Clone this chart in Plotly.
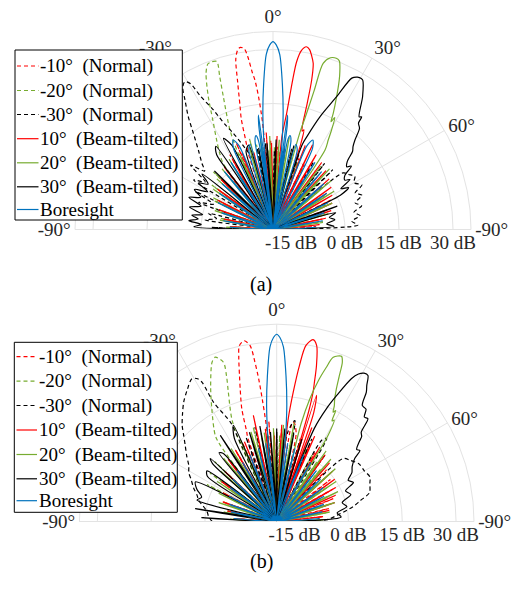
import plotly.graph_objects as go

# ---------------- data: panel (a) ----------------
A_RN10_T = [-90,-86,-82,-78,-74,-70,-66,-62,-58,-54,-50,-46,-42,-38,-34,-30,-26.5,-23,-19.5,-18,-17,-16,-15,-13.5,-12.3,-11,-10.1,-9,-8.3,-7.5,-6.9,-6.2,-5.6,-5,-4,-3,-1.5,0.5,3,5.5,8,10.5,13.7,17,20,23,26,29,32,36,40,44,48,52,56,60,63,66,70,74,78,82,86,90]
A_RN10_R = [-20,-9,-20,-6,-20,-4,-20,-2,-20,-1,-20,1,-20,2,-20,4,-20,6,-20,2,6,12,15.3,22,28.5,31,31.4,30.8,28.5,24,21.8,17,10,-20,7,-20,5,-20,3,-20,2,-20,0,-20,1,-20,0,-20,-1,-20,-1,-20,-2,-20,-2,-20,-2,-20,-4,-20,-6,-20,-8,-20]

A_GN20_T = [-90,-86,-82,-78,-74,-70,-66,-62,-58,-54,-50,-46,-42,-39,-37,-35,-32.2,-28.8,-26,-23.2,-21.5,-20.2,-18.5,-19.2,-20.5,-23.4,-24.5,-25,-16,-14.5,-13,-11,-9,-7,-5,-3,-1,1,3,5,7,9,11,14,17,20,23,26,29,32,35,38,41,44,47,50,53,57,61,65,69,73,77,81,85,88,90]
A_GN20_R = [-20,-8,-20,-5,-20,-3,-20,-1,-20,1,-20,3,-20,-20,3,5.8,9.4,14.7,21,27.2,29.4,29.6,29.2,25,19.4,10.1,4,-20,-20,6,-20,4,-20,3,-20,2,-20,3,-20,2,-20,1,-20,2,-20,0,-20,-1,-20,-1,-20,-2,-20,-2,-20,-3,-20,-3,-20,-4,-20,-5,-20,-6,-20,-8,-20]

A_BN30_T = [-90,-88,-85,-82,-79,-76,-73,-70,-67,-64,-61,-58,-55,-52,-49.5,-47,-43.2,-39.6,-36.9,-34.2,-32.4,-30.8,-29.5,-28.5,-26.5,-24.5,-22.4,-19,-15.8,-14,-11,-8,-5,-2,1,4,7,10,13,16,19,22,25,28,31,34,38,42,45,48,51,54,57,60,63.4,66,69,72,75,78,81,84,87,90]
A_BN30_R = [-20,-3,-20,-1,-4,-1.5,-20,2,-2,4,-20,6,3,9,5,7,10.3,14.7,19.2,23.5,26.8,27.8,26.5,22,17.1,12,8.9,4,0,-20,3,-20,4,-20,2,-20,1,-20,3,-20,2,-20,0,-20,2,-20,3.3,-20,3.5,-20,5,6,7.1,6,7.6,5,6.5,4,5.5,3,4.5,2,3.6,-20]

A_RT10_T = [-90,-86,-82,-78,-74,-70,-66,-62,-58,-54,-50,-46,-42,-38,-34,-30,-26,-22,-18,-14,-10,-6,-3,-1,1,2.5,4.5,5.5,6.7,7.5,8,9,10.35,11.5,12.5,13.6,14.5,15.2,15.8,16.5,17.2,18,19,21,23,25,27,30,33,36,39,42,45,48,51,54,57,60,63,66,69,72,75,78,81,84,87,90]
A_RT10_R = [-20,-8,-20,-6,-20,-4,-20,-3,-20,-1,-20,0,-20,1,-20,2,-20,3,-20,2,-20,3,-20,4,-20,6,-20,6,12.5,22,27,30.3,31.6,31,29.5,27.5,22.9,16,10,8.5,9,5,-20,5,-20,6,-20,4,-20,3,-20,2,-20,1,-20,0,-20,-1,-20,-2,-20,-3,-20,-5,-20,-7,-20,-20]

A_GT20_T = [-90,-87,-84,-80,-76,-72,-68,-64,-60,-56,-52,-48,-44,-40,-36,-32,-28,-24,-20,-16,-12,-8,-5,-2,1,4,7,10,12.5,14.5,15.5,16,16.5,16.8,18.5,20.3,21.5,23,23.9,25.6,27.4,28.3,28.9,30.5,31.7,33.2,35,37,40,43,46,50,54,58,62,66,70,74,78,82,86,89,90]
A_GT20_R = [-20,-7,-20,-5,-20,-3,-20,-2,-20,0,-20,1,-20,2,-20,3,-20,3,-20,4,-20,5,-20,6,-20,5,-20,6,-20,-20,8,12,20,28.2,30.3,30.7,30.3,27.5,25.4,20.9,16.4,14,15.5,12,9.2,6.4,-20,2,-20,3,-20,1,-20,0,-20,-2,-20,-4,-20,-6,-20,-8,-20]

A_BT30_T = [-90,-88,-86,-84,-82,-80,-78,-75,-72,-69,-66,-63,-60,-58,-55,-52,-49,-45,-41,-37,-34.5,-31,-28.6,-26,-23,-19,-16,-13,-10,-7,-4,-1,2,5,8,11,14,17,18,19,20,22.6,25.6,27.5,29,30.3,31,34,37.4,38.2,38.8,40.5,42.5,44,45.5,47.5,49.6,51,53,55.5,57,59,61,63,66,70,72,75,78,81,84,87,90]
A_BT30_R = [-20,2,0,3.5,1,2.9,0,4,1,5,2,4.5,1,4.4,2,5,-20,3,-20,6,8,-20,8.8,6,-20,3,4.4,-20,3,-20,4,-20,5,-20,3,-20,4,-20,-20,5,7.4,13.9,20.9,27.4,28.4,28.6,28.4,24.5,19.4,19.8,17.9,17,13.7,12,11,8,6.9,8,5,4.2,5.5,2,4,1,-20,-1,-20,-2,-4,-2.6,-5,-3,-20]

A_BORE_T = [-90,-87,-84,-80,-76,-72,-68,-64,-60,-56,-52,-48,-44,-40,-36,-32,-28.5,-26,-24,-22,-19.5,-17,-15,-13,-11.5,-10.3,-9.3,-8.6,-7.8,-7.2,-6.8,-6.1,-5.7,-4.9,-3.7,-2.2,-1,0,1,2.2,3.7,4.9,5.7,6.1,6.8,7.2,7.8,8.6,9.3,10.3,11.5,13,15,17,19.5,22,24,26,28.5,32,36,40,44,48,52,56,60,64,68,72,76,80,84,87,90]
A_BORE_R = [-20,-8,-20,-6,-20,-5,-20,-3,-20,-2,-20,-1,-20,1,-20,2,-20,5,7.2,5,-20,3,4.5,-20,5,6.5,5,-20,9,12,-20,2,6.5,13,20.4,28.7,31.3,32.2,31.3,28.7,20.4,13,6.5,2,-20,12,9,-20,5,6.5,5,-20,4.5,3,-20,5,7.2,5,-20,2,-20,1,-20,-1,-20,-2,-20,-3,-20,-5,-20,-6,-20,-8,-20]

# ---------------- data: panel (b) ----------------
B_RN10_T = [-90,-86,-82,-78,-74,-70,-66,-62,-58,-54,-50,-46,-42,-38,-34,-30,-26,-23.5,-21,-19,-18.5,-17.2,-15.5,-14.3,-13,-12,-10.2,-8.6,-7.8,-7.2,-6.7,-6.2,-5.7,-4.5,-3.3,-1.5,0,3,6,9,10,12.5,14,17,20,23,26,29,32,36,40,44,48,52,56,60,64,68,72,76,80,84,88,90]
B_RN10_R = [-20,-8,-20,-6,-20,-4,-20,-3,-20,-1,-20,0,-20,1,-20,3,-20,4,-20,5,6.3,12.9,18,22,27,30.1,31.2,29.6,25,20,14,7,-20,8,-20,4,-20,6,-20,8,8,5,-20,4,-20,3,-20,2,-20,1,-20,0,-20,-1,-20,-2,-20,-3,-20,-5,-20,-7,-20,-20]

B_GN20_T = [-90,-86,-82,-78,-74,-70,-66,-62,-58,-54,-50,-46,-42,-39,-36.5,-35.5,-29.9,-26,-22.1,-20.5,-18.5,-19,-20.5,-23.6,-25,-26,-16,-14,-12,-10,-8,-6,-4,-2,0,2,4,6,8,10,13,16,19,22,25,28,31,34,37,40,44,48,52,56,60,64,68,72,76,80,84,88,90]
B_GN20_R = [-20,-8,-20,-6,-20,-4,-20,2,-20,3,-20,4,-20,-20,6.4,9.5,16.3,22,27.9,28.9,26.8,23,18.5,11.3,5,-20,-20,7,-20,5,-20,6,-20,3,-20,4,-20,3,-20,2,-20,3,-20,2,-20,1,-20,0,-20,-1,-20,-2,-20,-3,-20,-4,-20,-5,-20,-6,-20,-8,-20]

B_BN30_T = [-90,-86,-82,-78,-75,-71.7,-68,-64,-61,-57.4,-54,-50.2,-47,-44.5,-41,-37.9,-34,-30.7,-29,-28.2,-27.9,-25,-24.8,-24,-20,-17,-13,-10,-6,-3,0,2,4,7,10.2,13,16,20,23,26,29,31,33,36,40,44,46.5,50,55,60,64.4,68,72.7,76,79,84,88,90]
B_BN30_R = [-2,-1,-0.4,1,2.5,3.4,5,6.5,8,9.1,11,13.2,15.5,17.6,20,22.2,24.5,26.3,25.5,24,17.6,10.6,6.5,-20,5,-20,7,-20,4,-20,5,-20,-20,5,8.6,-20,4,-20,5,-20,6,7,-20,3,-20,-20,5.5,6.6,8,8.2,8.8,8,7.1,4,1.7,-3,-6.1,-20]

B_RT10_T = [-90,-86,-82,-78,-74,-70,-66,-62,-58,-54,-50,-46,-42,-38,-34,-30,-26,-22,-18,-15,-12.4,-10,-7,-4.5,-2,0.5,3,5.5,6.4,7.3,8.3,9.4,11.3,12.8,14.3,15.2,15.7,16.2,16.8,17.5,18.8,19.5,20.5,21.5,24,27,30,33,36,39,42,45,48,51,54,57,60,63,66,69,72,75,78,81,84,87,90]
B_RT10_R = [-20,-8,-20,-6,-20,-4,-20,-3,-20,-1,-20,0,-20,2,-20,3,-20,4,-20,-20,10.3,-20,6,-20,5,-20,7,-20,8.8,16.4,24,29.7,31.7,30.3,24.9,20,17.5,12,-20,16.9,12,-20,8,-20,6,-20,4,-20,3,-20,2,-20,1,-20,0,-20,-1,-20,-2,-20,-3,-20,-5,-20,-7,-20,-20]

B_GT20_T = [-90,-87,-84,-80,-76,-72,-68,-64,-60,-56,-52,-48,-44,-40,-36,-32,-28,-24,-20,-16,-12,-8,-5,-2,1,4,7,10,13,14,15.1,16.5,17.8,19,21.4,22.4,23.3,24.2,25.5,26.5,27.3,28,28.8,29.5,30.8,32,35,38,41,44,48,52,56,60,64,68,72,76,80,84,88,90]
B_GT20_R = [-20,-7,-20,-5,-20,-3,-20,-2,-20,0,-20,1,-20,3,-20,4,-20,5,-20,6,-20,5,-20,6,-20,7,-20,8,-20,8,15.4,21,25,28.4,29.5,28,24,20.6,17.5,16,14.3,15,12,12.5,8,-20,4,-20,3,-20,2,-20,0,-20,-1,-20,-3,-20,-5,-20,-7,-20]

B_BT30_T = [-90,-87,-84,-81,-78,-75,-72,-68,-64,-61,-57,-54,-51,-48,-46.5,-44,-40,-38,-36,-33.2,-30,-27,-24.2,-21,-17,-14,-10,-7,-4,-2,0,2,5,8,11,14,17,19.5,21,22,23.8,25.5,27.6,29,30.5,32,33.5,34.7,36.4,38.5,40,41.6,43.4,45,46,48,49.5,51.1,54,57,60,63,66,70,74,78,82,86,90]
B_BT30_R = [-20,1,-20,3,-20,3,2,4,5.2,-20,3,4,-20,4,5.5,-20,5,4,-20,8.7,-20,6,9.4,-20,6,-20,7,-20,5,-20,5.9,-20,6,-20,5,-20,4,-20,-20,8,14.4,19,24.9,27,28,28,25.5,23.9,20.2,20,18,18.3,14.3,13.5,12,10,10.5,7.9,6,5,3,4,1,2,-1,0,-3,-2,-20]

B_BORE_T = [-90,-86,-82,-78,-74,-70,-66,-62,-58,-54,-50,-46,-42,-38,-34,-30,-26,-22,-18,-14,-11,-8,-6.8,-6.1,-5.7,-4.9,-3.7,-2.2,-1,0,1,2.2,3.7,4.9,5.7,6.1,6.8,8,11,14,18,22,26,30,34,38,42,46,50,54,58,62,66,70,74,78,82,86,90]
B_BORE_R = [-20,-8,-20,-7,-20,-6,-20,-5,-20,-4,-20,-3,-20,-2,-20,-1,-20,0,-20,1,-20,2,-20,2,6.5,13,20.4,28.7,31.3,32.2,31.3,28.7,20.4,13,6.5,2,-20,2,-20,1,-20,0,-20,-1,-20,-2,-20,-3,-20,-4,-20,-5,-20,-6,-20,-7,-20,-8,-20]

LEGEND_NAMES = ["-10°\u00a0\u00a0(Normal)", "-20°\u00a0\u00a0(Normal)", "-30°\u00a0\u00a0(Normal)",
                "10°\u00a0\u00a0(Beam-tilted)", "20°\u00a0\u00a0(Beam-tilted)", "30°\u00a0\u00a0(Beam-tilted)",
                "Boresight"]
THETA_TICKS = [-90, -60, -30, 0, 30, 60, 90]
THETA_LABELS = ["-90°", "", "-30°", "0°", "30°", "60°", "-90°"]  # -60° is hidden by the legend
R_TICKS = [-15, 0, 15, 30]
R_LABELS = ["-15 dB", "0 dB", "15 dB", "30 dB"]
R_RANGE = [-20, 35]

RED, GREEN, BLACK, BLUE = "#FF0000", "#77AC30", "#000000", "#0072BD"
COLORS = [RED, GREEN, BLACK, RED, GREEN, BLACK, BLUE]
DASHES = ["4px,3px", "4px,3px", "4px,3px", "solid", "solid", "solid", "solid"]

PANEL_A = [(A_RN10_T, A_RN10_R), (A_GN20_T, A_GN20_R), (A_BN30_T, A_BN30_R),
           (A_RT10_T, A_RT10_R), (A_GT20_T, A_GT20_R), (A_BT30_T, A_BT30_R),
           (A_BORE_T, A_BORE_R)]
PANEL_B = [(B_RN10_T, B_RN10_R), (B_GN20_T, B_GN20_R), (B_BN30_T, B_BN30_R),
           (B_RT10_T, B_RT10_R), (B_GT20_T, B_GT20_R), (B_BT30_T, B_BT30_R),
           (B_BORE_T, B_BORE_R)]

for t, r in PANEL_A + PANEL_B:
    assert len(t) == len(r), (len(t), len(r))

FONT = "Liberation Serif, Times New Roman, Times, serif"
W, H = 523, 591

fig = go.Figure()
for panel, subplot in zip([PANEL_A, PANEL_B], ["polar", "polar2"]):
    for (t, r), name, col, dash in zip(panel, LEGEND_NAMES, COLORS, DASHES):
        fig.add_trace(go.Scatterpolar(
            theta=t, r=r, mode="lines", name=name, subplot=subplot, showlegend=False,
            line=dict(color=col, width=1.2, dash=dash, shape="spline", smoothing=0.8),
            hoverinfo="skip"))


def polar_layout(cx, cy, rad):
    return dict(
        domain=dict(x=[(cx - rad) / W, (cx + rad) / W], y=[1 - cy / H, 1 - (cy - rad) / H]),
        sector=[0, 180], bgcolor="white",
        angularaxis=dict(rotation=90, direction="clockwise", tickmode="array",
                         tickvals=THETA_TICKS, ticktext=THETA_LABELS, ticks="",
                         showline=True, linecolor="#e3e3e3", linewidth=1,
                         gridcolor="#e3e3e3", gridwidth=1,
                         tickfont=dict(family=FONT, size=19, color="#262626")),
        radialaxis=dict(range=R_RANGE, tickmode="array", tickvals=R_TICKS, ticktext=R_LABELS,
                        showline=False, ticks="", gridcolor="#e3e3e3", gridwidth=1,
                        angle=0, tickangle=0,
                        tickfont=dict(family=FONT, size=19, color="#262626")),
    )


# legend boxes drawn as a framed key (box, line samples, real text labels)
def legend_items(box, rows, line_x, text_x):
    shapes = [dict(type="rect", xref="paper", yref="paper", layer="above",
                   x0=box[0] / W, x1=box[2] / W, y0=1 - box[3] / H, y1=1 - box[1] / H,
                   fillcolor="white", line=dict(color="black", width=1))]
    annos = []
    for ry, name, col, dash in zip(rows, LEGEND_NAMES, COLORS, DASHES):
        shapes.append(dict(type="line", xref="paper", yref="paper", layer="above",
                           x0=line_x[0] / W, x1=line_x[1] / W, y0=1 - ry / H, y1=1 - ry / H,
                           line=dict(color=col, width=1.2, dash=dash)))
        annos.append(dict(text=name, x=text_x / W, y=1 - ry / H, xref="paper", yref="paper",
                          xanchor="left", yanchor="middle", showarrow=False,
                          font=dict(family=FONT, size=19, color="black")))
    return shapes, annos


ROWS_A = [66, 90.5, 114.5, 138.7, 162.8, 186.8, 209.5]
ROWS_B = [356.7, 381.2, 405.5, 430, 454.5, 478.8, 500.7]
sh_a, an_a = legend_items((15, 50, 182.3, 220), ROWS_A, (17, 38.5), 37.5)
sh_b, an_b = legend_items((14.3, 342.3, 177.3, 512.3), ROWS_B, (16.5, 37), 36.5)

fig.update_layout(
    width=W, height=H, margin=dict(l=0, r=0, t=0, b=0),
    paper_bgcolor="white", plot_bgcolor="white", showlegend=False,
    polar=polar_layout(273, 229.5, 198),
    polar2=polar_layout(276.7, 521.5, 197.3),
    shapes=sh_a + sh_b,
    annotations=an_a + an_b + [
        dict(text="(a)", x=261 / W, y=1 - 284 / H, xref="paper", yref="paper", showarrow=False,
             font=dict(family=FONT, size=20, color="black")),
        dict(text="(b)", x=261 / W, y=1 - 575 / H, xref="paper", yref="paper", showarrow=False,
             font=dict(family=FONT, size=20, color="black")),
    ],
)

fig.write_html("out.html")
